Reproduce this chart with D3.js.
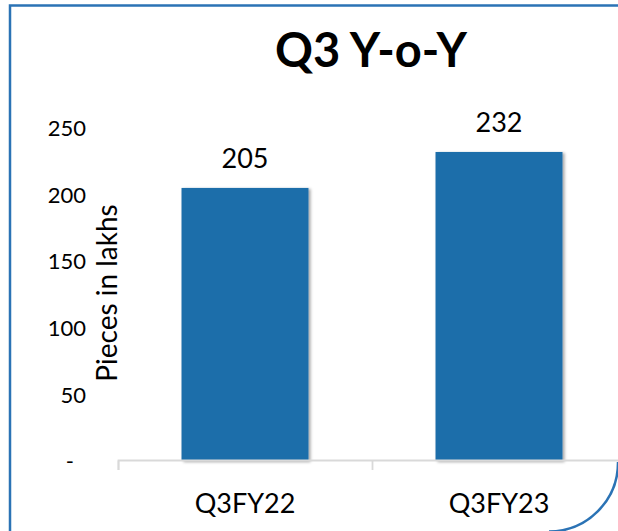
<!DOCTYPE html>
<html>
<head>
<meta charset="utf-8">
<script src="https://cdn.jsdelivr.net/npm/d3@7"></script>
<style>
  html, body { margin: 0; padding: 0; background: #fff; }
  svg { display: block; }
  text { font-family: Lato, "Open Sans", sans-serif; fill: #000; }
</style>
</head>
<body>
<svg id="chart" width="618" height="531"></svg>
<script>
// ---- data ----
const categories = ["Q3FY22", "Q3FY23"];
const values = [205, 232];
const tickValues = [0, 50, 100, 150, 200, 250];
const tickLabels = ["-", "50", "100", "150", "200", "250"];
const titleText = "Q3 Y-o-Y";
const yAxisTitle = "Pieces in lakhs";

const W = 618, H = 531;
const svg = d3.select("#chart");

const defs = svg.append("defs");
const f = defs.append("filter").attr("id", "shadow")
  .attr("x", "-10%").attr("y", "-10%").attr("width", "130%").attr("height", "130%");
f.append("feDropShadow").attr("dx", 2).attr("dy", 1).attr("stdDeviation", 1.8)
  .attr("flood-color", "#000").attr("flood-opacity", 0.35);

// frame
const frameColor = "#2b73b5";
svg.append("path")
  .attr("d", `M10,${H} L10,5.5 L${W},5.5`)
  .attr("fill", "none").attr("stroke", frameColor).attr("stroke-width", 2.5);
svg.append("path")
  .attr("d", `M${W},462 A69,69 0 0 1 549,${H + 0.5}`)
  .attr("fill", "none").attr("stroke", frameColor).attr("stroke-width", 2.5);

// scales
const x = d3.scaleBand().domain(categories).range([118, 626]).paddingInner(0.5).paddingOuter(0.25);
const y = d3.scaleLinear().domain([0, 250]).range([461, 128]);

// title
svg.append("text")
  .attr("x", 371).attr("y", 67)
  .attr("text-anchor", "middle")
  .style("font-size", "47px").style("font-weight", "bold")
  .text(titleText);

// bars
svg.append("g").selectAll("rect").data(values).join("rect")
  .attr("x", (d, i) => x(categories[i]))
  .attr("y", d => y(d))
  .attr("width", x.bandwidth())
  .attr("height", d => y(0) - y(d))
  .attr("fill", "#1f6eaa")
  .attr("filter", "url(#shadow)");

// x axis baseline
const xAxis = d3.axisBottom(x).tickSize(0).tickFormat("");
const gx = svg.append("g").attr("transform", "translate(0,460.5)").call(xAxis);
gx.select(".domain").attr("stroke", "#d9d9d9").attr("stroke-width", 1.8)
  .attr("d", `M118.5,9.5V0H${W + 10}`);
// category boundary ticks
const step = x.step();
const bounds = [118.5, 118.5 + step];
gx.selectAll("line.bnd").data(bounds).join("line").attr("class", "bnd")
  .attr("x1", d => d).attr("x2", d => d).attr("y1", 0).attr("y2", 9.5)
  .attr("stroke", "#d9d9d9").attr("stroke-width", 1.8);

// category labels
svg.append("g").selectAll("text").data(categories).join("text")
  .attr("x", d => x(d) + x.bandwidth() / 2)
  .attr("y", 513)
  .attr("text-anchor", "middle")
  .style("font-size", "27px")
  .text(d => d);

// y axis tick labels
const yAxis = d3.axisLeft(y).tickValues(tickValues).tickSize(0)
  .tickFormat((d, i) => tickLabels[i]);
const gy = svg.append("g").attr("transform", "translate(86,0)").call(yAxis);
gy.select(".domain").remove();
gy.selectAll("text")
  .attr("x", (d, i) => i === 0 ? -12 : 0)
  .attr("dy", "0.35em")
  .style("font-size", "22px")
  .style("font-family", "Lato, 'Open Sans', sans-serif")
  .attr("fill", "#000");

// y axis title
svg.append("text")
  .attr("transform", `translate(117,${293}) rotate(-90)`)
  .attr("text-anchor", "middle")
  .style("font-size", "28px")
  .text(yAxisTitle);

// value labels
svg.append("g").selectAll("text").data(values).join("text")
  .attr("x", (d, i) => x(categories[i]) + x.bandwidth() / 2)
  .attr("y", d => y(d) - 20)
  .attr("text-anchor", "middle")
  .style("font-size", "27px")
  .text(d => d);
</script>
</body>
</html>
